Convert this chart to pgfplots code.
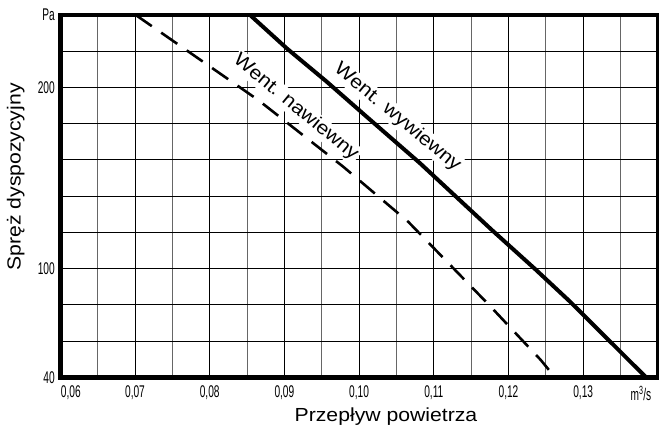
\documentclass[border=0pt]{standalone}
\usepackage{fontspec}
\setmainfont{Liberation Sans}
\usepackage{graphicx}
\usepackage{pgfplots}
\pgfplotsset{compat=1.18}
\newcommand{\nar}[1]{\scalebox{0.6}[1]{\fontsize{17}{19}\selectfont #1}}
\newcommand{\wid}[1]{\scalebox{1.12}[1]{#1}}
\begin{document}
\begin{tikzpicture}
\begin{axis}[
  scale only axis, width=597.6bp, height=362.3bp,
  xmin=0.06, xmax=0.14, ymin=0, ymax=10,
  xtick={0.06,0.07,0.08,0.09,0.10,0.11,0.12,0.13,0.14},
  xticklabels={{\hspace*{21bp}\nar{0,06}},{\nar{0,07}},{\nar{0,08}},{\nar{0,09}},{\nar{0,10}},{\nar{0,11}},{\nar{0,12}},{\nar{0,13}},{\nar{m\textsuperscript{3}/s}\hspace*{34bp}}},
  minor xtick={0.065,0.075,0.085,0.095,0.105,0.115,0.125,0.135},
  ytick={0,1,2,3,4,5,6,7,8,9,10},
  yticklabels={{\nar{40}},{},{},{\nar{100}},{},{},{},{},{\nar{200}},{},{\nar{Pa}}},
  grid=both,
  major grid style={black, line width=1bp},
  minor grid style={black!60, line width=1bp},
  major tick length=0pt, minor tick length=0pt,
  axis line style={black, line width=4.5bp},
  xticklabel style={yshift=-5bp},
  yticklabel style={xshift=-2bp},
  xlabel={\wid{Przepływ powietrza}},
  ylabel={\wid{Spręż dyspozycyjny}},
  label style={font=\fontsize{19}{22}\selectfont},
  xlabel style={at={(axis description cs:0.545,-0.1214)}, anchor=base},
  ylabel style={at={(axis description cs:-0.0663,0.553)}, anchor=base},
]
\node[fill=white, inner sep=1.5bp, rotate=-39.5, font=\fontsize{19}{22}\selectfont] at (axis cs:0.09153,7.45) {\wid{Went. nawiewny}};
\node[fill=white, inner sep=1.5bp, rotate=-39.5, font=\fontsize{19}{22}\selectfont] at (axis cs:0.10514,7.17) {\wid{Went. wywiewny}};
\addplot[black, line width=4bp] coordinates {
  (0.0854,10) (0.09031,9.08) (0.09566,8.16) (0.10102,7.19) (0.10815,5.91)
  (0.11775,4.07) (0.12355,2.99) (0.12823,2.09) (0.13841,0)
};
\addplot[black, line width=2.6bp, dash pattern=on 19.5bp off 11.5bp] coordinates {
  (0.0701,10) (0.08651,7.65) (0.09789,5.81) (0.10659,4.29) (0.11752,1.97)
  (0.12431,0.48) (0.12622,0)
};
\end{axis}
\pgfresetboundingbox
\path ([shift={(-60.3bp,-50.7bp)}]current axis.south west) rectangle ([shift={(1.1bp,15bp)}]current axis.north east);
\end{tikzpicture}
\end{document}
